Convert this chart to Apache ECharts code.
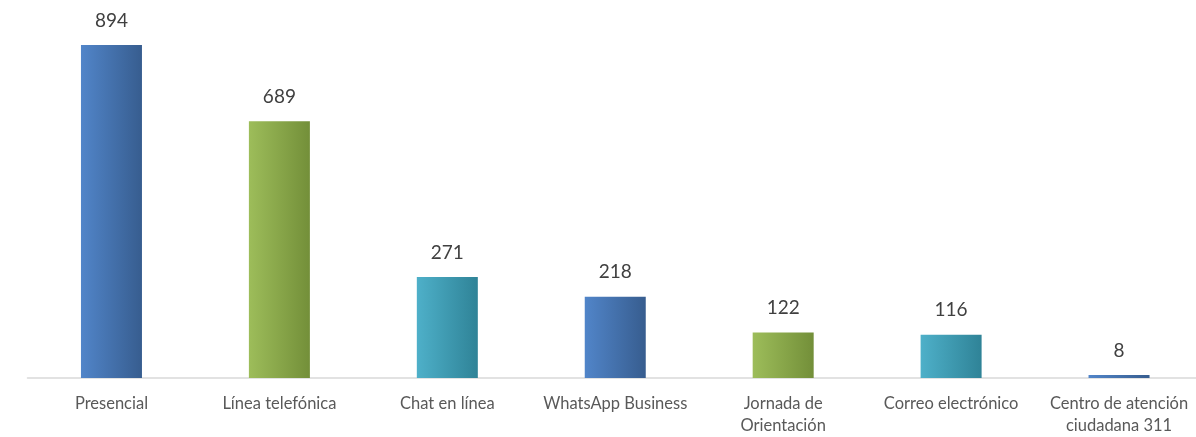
<!DOCTYPE html>
<html><head><meta charset="utf-8">
<script src="https://cdn.jsdelivr.net/npm/echarts@6/dist/echarts.min.js"></script>
<style>html,body{margin:0;padding:0;background:#fff;overflow:hidden;width:1196px;height:437px}#c{width:1210px;height:437px}</style>
</head><body><div id="c"></div>
<script>
const categories = ['Presencial','Línea telefónica','Chat en línea','WhatsApp Business','Jornada de\nOrientación','Correo electrónico','Centro de atención\nciudadana 311'];
const values = [894, 689, 271, 218, 122, 116, 8];
const palette = [['#5185c9','#375d8f'],['#9dbd5a','#738f39'],['#4eb0c9','#2f8397']];
const chart = echarts.init(document.getElementById('c'));
const grad = (c) => new echarts.graphic.LinearGradient(0,0,1,0,[{offset:0,color:c[0]},{offset:1,color:c[1]}]);
chart.setOption({
  animation:false,
  grid:{left:27.5,right:7,top:45,height:333,containLabel:false},
  xAxis:{type:'category',data:categories,
    axisLine:{lineStyle:{color:'#d9d9d9',width:1.5}},axisTick:{show:false},
    axisLabel:{interval:0,color:'#595959',fontSize:16.5,fontFamily:'Lato',lineHeight:22,margin:15}},
  yAxis:{type:'value',min:0,max:894,show:false,splitLine:{show:false}},
  series:[{type:'bar',barWidth:61,
    data:values.map((v,i)=>({value:v,itemStyle:{color:grad(palette[i%3])}})),
    label:{show:true,position:'top',distance:15,color:'#404040',fontSize:19,fontFamily:'Lato'}}]
});
</script></body></html>
